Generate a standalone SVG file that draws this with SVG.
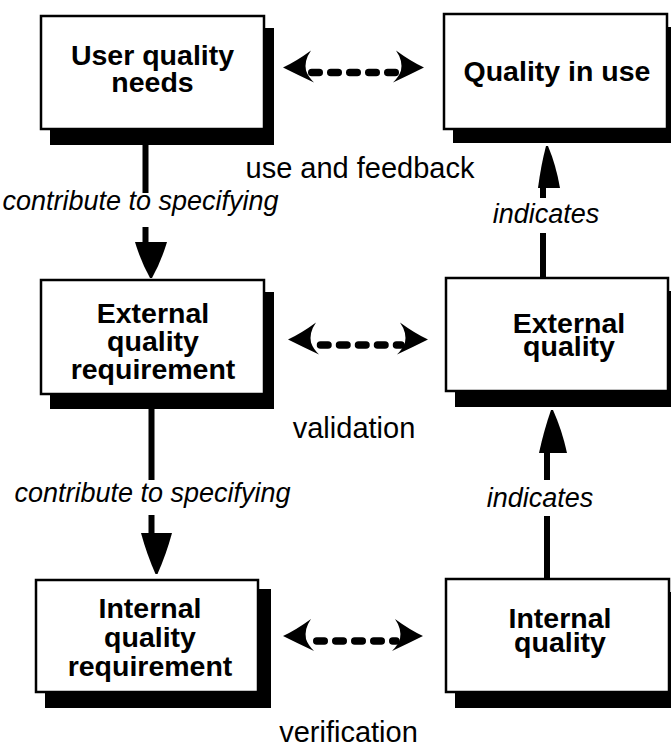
<svg xmlns="http://www.w3.org/2000/svg" width="671" height="747" viewBox="0 0 671 747">
<style>
.bg{fill:#fff}
.shadow{fill:#000}
.box{fill:#fff;stroke:#000;stroke-width:2.5}
.bt{font-family:"Liberation Sans",Arial,Helvetica,sans-serif;font-weight:bold;font-size:28.5px;text-anchor:middle;fill:#000}
.lbl{font-family:"Liberation Sans",Arial,Helvetica,sans-serif;font-size:29px;text-anchor:middle;fill:#000}
.it{font-family:"Liberation Sans",Arial,Helvetica,sans-serif;font-style:italic;font-size:27px;text-anchor:middle;fill:#000}
.line{stroke:#000;stroke-width:6;fill:none}
.dash{stroke:#000;stroke-width:7.5;stroke-dasharray:7.5 11.5;stroke-linecap:round;fill:none}
.head{fill:#000;stroke:none}
</style>
<defs>
<path id="ahL" d="M0,0 Q13,-6 28,-17 Q21,-7 23,3 Q25,9 31,15 Q14,7 0,0 Z"/>
</defs>
<rect class="bg" x="0" y="0" width="671" height="747"/>

<g id="connectors">
  <!-- vertical: user quality needs -> external quality requirement -->
  <path class="line" d="M145.5,145 V193 M145.5,227 V243"/>
  <path class="head" d="M135,242 L167,242 Q161,262 152,278 L150,278 Q141,262 135,242 Z"/>
  <!-- vertical: external quality requirement -> internal quality requirement -->
  <path class="line" d="M151.5,409 V480 M151.5,515 V534"/>
  <path class="head" d="M141,533 L172,533 Q166,555 157.5,574 L155.5,574 Q147,555 141,533 Z"/>
  <!-- vertical: external quality -> quality in use -->
  <path class="line" d="M543,277 V233 M543,198 V187"/>
  <path class="head" d="M538,188 L560,188 Q556,165 548,146 L546,146 Q541,165 538,188 Z"/>
  <!-- vertical: internal quality -> external quality -->
  <path class="line" d="M547,578 V516 M547,480 V452"/>
  <path class="head" d="M539,453 L567,453 Q562,430 553,410 L551,410 Q544,430 539,453 Z"/>

  <!-- dashed bidirectional: top -->
  <path class="dash" d="M311.75,72.5 H396"/>
  <use href="#ahL" class="head" transform="translate(283,67.5)"/>
  <use href="#ahL" class="head" transform="translate(424,67.5) scale(-1,1)"/>
  <!-- dashed bidirectional: middle -->
  <path class="dash" d="M320.5,345 H401"/>
  <use href="#ahL" class="head" transform="translate(288,339.5)"/>
  <use href="#ahL" class="head" transform="translate(428,339.5) scale(-1,1)"/>
  <!-- dashed bidirectional: bottom -->
  <path class="dash" d="M316.75,641 H396"/>
  <use href="#ahL" class="head" transform="translate(283,636)"/>
  <use href="#ahL" class="head" transform="translate(423,636) scale(-1,1)"/>

  <text class="lbl" x="360" y="178">use and feedback</text>
  <text class="lbl" x="354" y="438">validation</text>
  <text class="lbl" x="348.5" y="742">verification</text>
  <text class="it" x="140.5" y="210">contribute to specifying</text>
  <text class="it" x="152.5" y="502">contribute to specifying</text>
  <text class="it" x="546" y="223">indicates</text>
  <text class="it" x="540" y="507">indicates</text>
</g>

<g id="user-quality-needs">
  <rect class="shadow" x="50" y="28" width="224" height="117"/>
  <rect class="box" x="41" y="16" width="223" height="113"/>
  <text class="bt" x="152.5" y="65">User quality</text>
  <text class="bt" x="152.5" y="92">needs</text>
</g>

<g id="quality-in-use">
  <rect class="shadow" x="453" y="27" width="225" height="116"/>
  <rect class="box" x="444" y="14" width="223" height="115"/>
  <text class="bt" x="557" y="81">Quality in use</text>
</g>

<g id="external-quality-requirement">
  <rect class="shadow" x="50" y="292" width="224" height="117"/>
  <rect class="box" x="41" y="280" width="223" height="114"/>
  <text class="bt" x="153" y="323">External</text>
  <text class="bt" x="153" y="351">quality</text>
  <text class="bt" x="153" y="379">requirement</text>
</g>

<g id="external-quality">
  <rect class="shadow" x="455" y="291" width="225" height="116"/>
  <rect class="box" x="446" y="278" width="222" height="113"/>
  <text class="bt" x="569" y="333">External</text>
  <text class="bt" x="569" y="356">quality</text>
</g>

<g id="internal-quality-requirement">
  <rect class="shadow" x="45" y="589" width="226" height="119"/>
  <rect class="box" x="36" y="580" width="222" height="112"/>
  <text class="bt" x="150" y="618">Internal</text>
  <text class="bt" x="150" y="647">quality</text>
  <text class="bt" x="150" y="676">requirement</text>
</g>

<g id="internal-quality">
  <rect class="shadow" x="455" y="592" width="225" height="116"/>
  <rect class="box" x="446" y="579" width="223" height="113"/>
  <text class="bt" x="560" y="628">Internal</text>
  <text class="bt" x="560" y="652">quality</text>
</g>
</svg>
